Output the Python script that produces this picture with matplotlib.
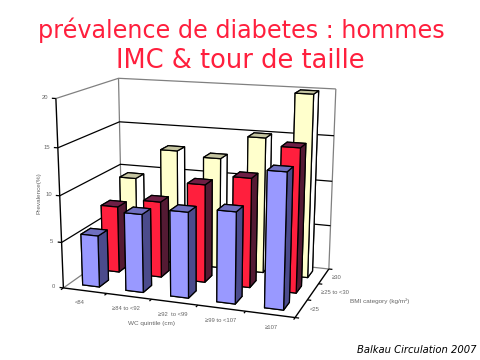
#!/usr/bin/env python3

import numpy as np
import matplotlib
matplotlib.use("Agg")
import matplotlib.pyplot as plt
from mpl_toolkits.mplot3d import Axes3D
from mpl_toolkits.mplot3d.art3d import Line3DCollection

wc_labels = ["<84", "≥84 to <92", "≥92  to <99", "≥99 to <107", "≥107"]
bmi_labels = ["<25", "≥25 to <30", "≥30"]
z_ticks = [0, 5, 10, 15, 20]

bmi_lt25 = [5.6, 8.4, 9.1, 9.6, 14.0]
bmi_25_30 = [7.4, 8.4, 10.7, 11.8, 15.3]
bmi_ge30 = [9.4, 12.9, 12.4, 15.0, 19.9]

# 6 faces: bottom, top, front, back, left, right
blue_faces = ["#4b4b8c", "#6f6fbf", "#9999ff", "#4b4b8c", "#4b4b8c", "#4b4b8c"]
red_faces = ["#541a33", "#6e1f45", "#ff1f3d", "#541a33", "#541a33", "#541a33"]
yellow_faces = ["#c0c0a0", "#c4c4a0", "#ffffcc", "#ffffff", "#ffffff", "#ffffff"]

nx = len(wc_labels)
ny = len(bmi_labels)
zmax = z_ticks[-1]

# camera calibration: box corners -> image pixels
world_pts = [(0, 0, 0), (nx, 0, 0), (nx, ny, 0), (0, ny, 0),
             (0, 0, zmax), (0, ny, zmax), (nx, ny, zmax), (0, 0, 10),
             (0, ny, 10), (nx, ny, 10)]
image_pts = [(64, 287), (295, 319), (328, 268), (123, 248),
             (57, 99), (118, 78), (336, 90), (58, 195),
             (120, 164), (333, 180)]


def fit_camera(world, image):
    rows = []
    for (X, Y, Z), (u, v) in zip(world, image):
        v = 360 - v
        rows.append([X, Y, Z, 1, 0, 0, 0, 0, -u * X, -u * Y, -u * Z, -u])
        rows.append([0, 0, 0, 0, X, Y, Z, 1, -v * X, -v * Y, -v * Z, -v])
    P = np.linalg.svd(np.array(rows, dtype=float))[2][-1].reshape(3, 4)
    if P[2] @ np.array([nx / 2, ny / 2, 0, 1]) < 0:
        P = -P
    return P / (P[2] @ np.array([nx / 2, ny / 2, 0, 1]))


P = fit_camera(world_pts, image_pts)

fig = plt.figure(figsize=(4.81, 3.6), dpi=100)
ax = fig.add_axes([0, 0, 1, 1], projection="3d")
ax.set_axis_off()
ax.computed_zorder = False
ax.apply_aspect = lambda position=None: None


def get_proj():
    T = ax.transData.get_affine().get_matrix()
    V = np.linalg.inv(T) @ P
    return np.vstack([V[0], V[1], V[2] - np.array([0, 0, 0, 0.5]), V[2]])


ax.get_proj = get_proj


def label3d(X, Y, Z, s, **kw):
    p = P @ np.array([X, Y, Z, 1.0])
    fig.text(p[0] / p[2] / 481, p[1] / p[2] / 360, s, fontsize=4.2, color="#666666",
             va="center", family="Liberation Sans", **kw)


def lines3d(segs, color, lw):
    ax.add_collection3d(Line3DCollection(segs, colors=color, linewidths=lw, zorder=1), autolim=False)


grid_segs = []
top_segs = []
tick_segs = []
for z in z_ticks:
    path = [(0, 0, z), (0, ny, z), (nx, ny, z)]
    if z == zmax:
        top_segs.append(path)
    elif z != 0:
        grid_segs.append(path)
    tick_segs.append([(0, 0, z), (-0.09, 0, z)])
    label3d(-0.24, 0, z, str(z), ha="center")

for i in range(nx + 1):
    tick_segs.append([(i, 0, 0), (i, -0.11, 0)])
for j in range(ny + 1):
    tick_segs.append([(nx, j, 0), (nx + 0.08, j, 0)])

top_segs.append([(0, ny, 0), (0, ny, zmax)])
top_segs.append([(nx, ny, 0), (nx, ny, zmax)])
top_segs.append([(0, 0, 0), (0, ny, 0), (nx, ny, 0)])

lines3d(top_segs, "#808080", 0.9)
lines3d(grid_segs, "black", 0.9)
lines3d(tick_segs, "black", 0.9)
lines3d([[(0, 0, 0), (0, 0, zmax)], [(0, 0, 0), (nx, 0, 0), (nx, ny, 0)]], "black", 1.0)

for i, lab in enumerate(wc_labels):
    label3d(i + 0.7, -0.62, 0, lab, ha="center")
for j, lab in enumerate(bmi_labels):
    label3d(nx + 0.17, j + 0.5, 0, lab, ha="left")

rows = [(2, bmi_ge30, yellow_faces), (1, bmi_25_30, red_faces), (0, bmi_lt25, blue_faces)]
order = 10
for j, values, faces in rows:
    for i, v in enumerate(values):
        ax.bar3d(i + 0.3, j + 0.3, 0, 0.39, 0.45, v, color=faces, edgecolor="black",
                 linewidth=0.9, shade=False, zorder=order)
        order += 1

fig.text(151 / 481, 1 - 323 / 360, "WC quintile (cm)", fontsize=4.6, color="#666666", ha="center", va="center", family="Liberation Sans")
fig.text(380 / 481, 1 - 301 / 360, "BMI category (kg/m²)", fontsize=4.6, color="#666666", ha="center", va="center", family="Liberation Sans")
fig.text(39 / 481, 1 - 193 / 360, "Prevalence(%)", fontsize=4.6, color="#666666", ha="center", va="center", rotation=90, family="Liberation Sans")

fig.text(241 / 481, 1 - 30 / 360, "prévalence de diabetes : hommes", fontsize=17.2, color="#ff1f3d", ha="center", va="center")
fig.text(240 / 481, 1 - 61 / 360, "IMC & tour de taille", fontsize=18.5, color="#ff1f3d", ha="center", va="center")
fig.text(417 / 481, 1 - 350 / 360, "Balkau Circulation 2007", fontsize=7.2, style="italic", color="black", ha="center", va="center")

plt.savefig("out.png", dpi=100)
